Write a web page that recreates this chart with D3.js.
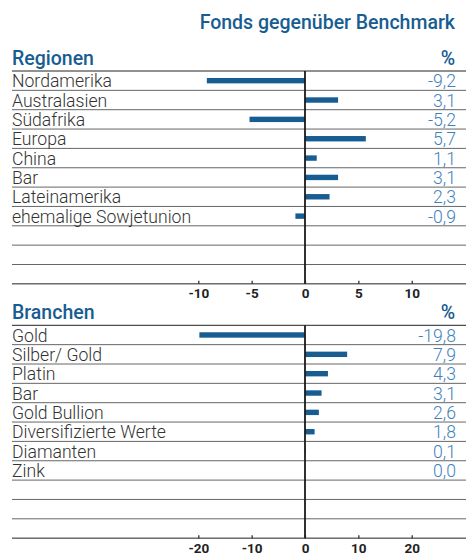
<!DOCTYPE html>
<html><head><meta charset="utf-8">
<script src="https://cdn.jsdelivr.net/npm/d3@7"></script>
<style>
html,body{margin:0;padding:0;background:#fff;}
svg{display:block;}
</style></head>
<body>
<svg id="c" width="466" height="557"></svg>
<script>
const chartTitle = "Fonds gegenüber Benchmark";
const regionTitle = "Regionen";
const regionCats = ["Nordamerika","Australasien","Südafrika","Europa","China","Bar","Lateinamerika","ehemalige Sowjetunion"];
const regionVals = [-9.2, 3.1, -5.2, 5.7, 1.1, 3.1, 2.3, -0.9];
const regionTicks = [-10, -5, 0, 5, 10];
const regionDomain = [-10, 10];

const branchTitle = "Branchen";
const branchCats = ["Gold","Silber/ Gold","Platin","Bar","Gold Bullion","Diversifizierte Werte","Diamanten","Zink"];
const branchVals = [-19.8, 7.9, 4.3, 3.1, 2.6, 1.8, 0.1, 0.0];
const branchTicks = [-20, -10, 0, 10, 20];
const branchDomain = [-20, 20];

const nRows = 11;
const svg = d3.select("#c");
const FONT = "Roboto, 'DejaVu Sans', sans-serif";
const BLUE = "#175d91";
const VBLUE = "#3f82bb";

svg.append("text").attr("x", 455).attr("y", 29).attr("text-anchor","end")
  .attr("font-family", FONT).attr("font-weight", 500).attr("font-size", 19.5)
  .attr("fill", BLUE).text(chartTitle);

const fmt = v => d3.format(".1f")(v).replace(".", ",").replace("−","-");

function panel(top, title, cats, vals, ticks, domain) {
  const g = svg.append("g");
  const x = d3.scaleLinear().domain(domain).range([198.3, 411.7]);
  const y = d3.scaleBand().domain(d3.range(nRows)).range([top, top + nRows*19.35]);
  g.append("text").attr("x", 12).attr("y", top - 6.5)
    .attr("font-family", FONT).attr("font-weight", 500).attr("font-size", 19.5)
    .attr("fill", BLUE).text(title);
  g.append("text").attr("x", 455).attr("y", top - 6.5).attr("text-anchor","end")
    .attr("font-family", FONT).attr("font-weight", 500).attr("font-size", 19.5)
    .attr("fill", BLUE).text("%");
  // row lines
  const lines = d3.range(nRows + 1).map(i => top + i*y.step());
  g.selectAll("line.row").data(lines).join("line")
    .attr("x1", 12).attr("x2", 466).attr("y1", d => d).attr("y2", d => d)
    .attr("stroke", (d,i) => (i === 0 || i === nRows) ? "#222" : "#666").attr("stroke-width", 1);
  // bars
  g.selectAll("rect.bar").data(vals).join("rect")
    .attr("x", d => x(Math.min(0, d)))
    .attr("width", d => Math.abs(x(d) - x(0)))
    .attr("y", (d,i) => y(i) + y.step()/2 - 2.7)
    .attr("height", 5.4)
    .attr("fill", BLUE);
  // labels
  g.selectAll("text.cat").data(cats).join("text")
    .attr("x", 12).attr("y", (d,i) => y(i) + 16.3)
    .attr("font-family", FONT).attr("font-weight", 300).attr("font-size", 17.6)
    .attr("fill", "#333").text(d => d);
  g.selectAll("text.val").data(vals).join("text")
    .attr("x", 456).attr("y", (d,i) => y(i) + 16.3).attr("text-anchor","end")
    .attr("font-family", FONT).attr("font-weight", 300).attr("font-size", 17.6)
    .attr("fill", VBLUE).text(d => fmt(d));
  // zero line
  const bottom = top + nRows*y.step();
  g.append("line").attr("x1", x(0)).attr("x2", x(0)).attr("y1", top).attr("y2", bottom)
    .attr("stroke", "#1a1a1a").attr("stroke-width", 1.8);
  // axis
  const ax = g.append("g").attr("transform", `translate(0,${bottom})`)
    .call(d3.axisBottom(x).tickValues(ticks).tickSize(-3).tickSizeOuter(0).tickPadding(5).tickFormat(d => d === 0 ? "0" : String(d)));
  ax.select(".domain").remove();
  ax.selectAll(".tick line").attr("stroke", "#222").attr("stroke-width", 1.2);
  ax.selectAll(".tick text").attr("font-family", FONT).attr("font-weight", 700)
    .attr("font-size", 13.5).attr("fill", "#222").attr("y", 5);
}

panel(71, regionTitle, regionCats, regionVals, regionTicks, regionDomain);
panel(325.3, branchTitle, branchCats, branchVals, branchTicks, branchDomain);
</script>
</body></html>
